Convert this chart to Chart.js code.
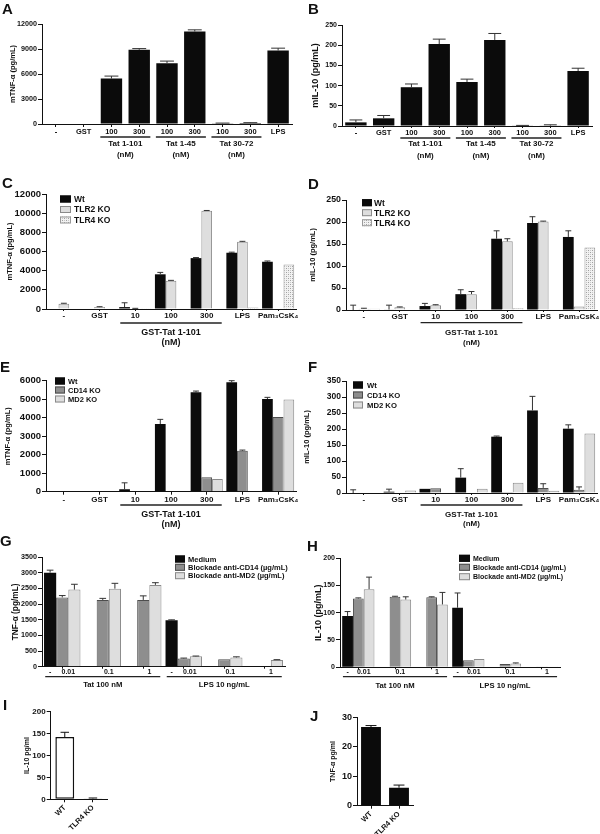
<!DOCTYPE html>
<html><head><meta charset="utf-8">
<script src="https://cdn.jsdelivr.net/npm/chart.js@4.4.1/dist/chart.umd.min.js"></script>
<style>
html,body{margin:0;padding:0;background:#fff;}
#fig{position:relative;width:600px;height:834px;overflow:hidden;background:#fff;font-family:"Liberation Sans",Arial,Helvetica,sans-serif;}
.lt{position:absolute;font-weight:bold;font-size:15px;line-height:15px;color:#111;z-index:5;}
</style></head><body><div id="fig"></div>
<script>
// ---------------- DATA ----------------
// Panel A – mTNF-α
const catA = ['-', 'GST', '100', '300', '100', '300', '100', '300', 'LPS'];
const tnfA = [0, 0, 5450, 8900, 7300, 11100, 80, 120, 8820];
const tnfAErr = [0, 0, 300, 150, 250, 200, 30, 40, 280];
const ticksA = [0, 3000, 6000, 9000, 12000];
const groupsAB = [['Tat 1-101', '(nM)'], ['Tat 1-45', '(nM)'], ['Tat 30-72', '(nM)']];

// Panel B – mIL-10
const catB = ['-', 'GST', '100', '300', '100', '300', '100', '300', 'LPS'];
const il10B = [9, 19, 96, 203, 109, 213, 1, 1, 136];
const il10BErr = [6, 7, 8, 12, 7, 16, 0.5, 2, 7];
const ticksB = [0, 50, 100, 150, 200, 250];

// Panels C–F categories
const catTLR = ['-', 'GST', '10', '100', '300', 'LPS', 'Pam₃CsK₄'];
const stimCF = ['GST-Tat 1-101', '(nM)'];

// Panel C – mTNF-α, TLR KO
const wtC = [0, 0, 200, 3620, 5310, 5870, 4930];
const wtCErr = [0, 0, 450, 200, 60, 60, 80];
const tlr2C = [560, 200, 50, 2950, 10240, 7010, 40];
const tlr2CErr = [40, 40, 20, 40, 40, 50, 0];
const tlr4C = [0, 0, 80, 0, 60, 150, 4650];
const ticksC = [0, 2000, 4000, 6000, 8000, 10000, 12000];

// Panel D – mIL-10, TLR KO
const wtD = [0, 1, 9, 36, 162, 198, 166];
const wtDErr = [11, 10, 6, 10, 18, 14, 14];
const tlr2D = [3, 6, 11, 36, 156, 201, 8];
const tlr2DErr = [1, 1, 1, 6, 6, 1, 0];
const tlr4D = [3, 0, 1, 1, 4, 1, 142];
const ticksD = [0, 50, 100, 150, 200, 250];

// Panel E – mTNF-α, CD14/MD2 KO
const wtE = [0, 0, 130, 3660, 5370, 5910, 5010];
const wtEErr = [0, 0, 350, 250, 70, 90, 90];
const cd14E = [0, 0, 0, 0, 780, 2210, 4040];
const cd14EErr = [0, 0, 0, 0, 0, 40, 0];
const md2E = [0, 0, 0, 0, 680, 0, 4990];
const ticksE = [0, 1000, 2000, 3000, 4000, 5000, 6000];

// Panel F – mIL-10, CD14/MD2 KO
const wtF = [0, 4, 13, 48, 176, 258, 201];
const wtFErr = [10, 8, 0, 28, 2, 44, 12];
const cd14F = [0, 0, 15, 0, 3, 16, 10];
const cd14FErr = [0, 0, 0, 0, 0, 13, 9];
const md2F = [0, 8, 0, 13, 32, 7, 186];
const ticksF = [0, 50, 100, 150, 200, 250, 300, 350];

// Panels G/H – blockade
const catGH = ['Tat 0.01', 'Tat 0.1', 'Tat 1', 'LPS 0.01', 'LPS 0.1', 'LPS 1'];
const doseGH = ['0.01', '0.1', '1', '0.01', '0.1', '1'];
const mediumTickGH = ['-', '', '', '-', '', ''];
const stimGH = ['Tat 100 nM', 'LPS 10 ng/mL'];
const mediumG = [3000, null, null, 1480, null, null];
const mediumGErr = [80, 0, 0, 15, 0, 0];
const cd14G = [2210, 2130, 2130, 260, 235, 0];
const cd14GErr = [60, 50, 130, 15, 0, 0];
const md2G = [2460, 2490, 2610, 330, 295, 215];
const md2GErr = [170, 170, 70, 10, 20, 10];
const ticksG = [0, 500, 1000, 1500, 2000, 2500, 3000, 3500];
const mediumH = [94, null, null, 109, null, null];
const mediumHErr = [8, 0, 0, 27, 0, 0];
const cd14H = [126, 129, 128, 13, 6, 0.5];
const cd14HErr = [1, 1, 1, 0, 0, 0];
const md2H = [143, 124, 115, 15, 7, 0.5];
const md2HErr = [22, 5, 22, 0, 1, 0];
const ticksH = [0, 50, 100, 150, 200];

// Panels I/J
const catIJ = ['WT', 'TLR4 KO'];
const il10I = [142, 2];
const il10IErr = [11, 1];
const ticksI = [0, 50, 100, 150, 200];
const tnfJ = [26.7, 6.1];
const tnfJErr = [0.5, 0.9];
const ticksJ = [0, 10, 20, 30];

// ---------------- STYLE ----------------
const FONT = '"Liberation Sans", Arial, Helvetica, sans-serif';
const INK = '#111';
const BLACK = '#0b0b0b', GRAY = '#8e8e8e', GRAYB = '#4d4d4d', LIGHT = '#dedede', LIGHTB = '#8a8a8a';
Chart.defaults.font.family = FONT;
Chart.defaults.font.weight = 'bold';
Chart.defaults.color = INK;

const fig = document.getElementById('fig');
function addLetter(t, x, y) {
  const d = document.createElement('div'); d.className = 'lt'; d.textContent = t;
  d.style.left = x + 'px'; d.style.top = y + 'px'; fig.appendChild(d);
}
function dotPattern() {
  const p = document.createElement('canvas'); p.width = 4; p.height = 4;
  const g = p.getContext('2d');
  g.fillStyle = '#f2f2f2'; g.fillRect(0, 0, 4, 4);
  g.fillStyle = '#a0a0a0'; g.fillRect(0, 0, 1, 1); g.fillRect(2, 2, 1, 1);
  g.fillStyle = '#c8c8c8'; g.fillRect(2, 0, 1, 1); g.fillRect(0, 2, 1, 1);
  return g.createPattern(p, 'repeat');
}
const DOTS = dotPattern();

const errorBars = {
  id: 'errorBars',
  afterDatasetsDraw(chart) {
    const ctx = chart.ctx, ys = chart.scales.y;
    chart.data.datasets.forEach((ds, i) => {
      if (!ds.errors) return;
      const meta = chart.getDatasetMeta(i);
      meta.data.forEach((bar, j) => {
        const v = ds.data[j], e = ds.errors[j];
        if (v == null || !e) return;
        const x = bar.x, w = bar.width * (ds.capRatio || 0.55);
        const y0 = ys.getPixelForValue(v), y1 = ys.getPixelForValue(v + e);
        ctx.save();
        ctx.strokeStyle = ds.errorColor || '#333'; ctx.lineWidth = 1;
        ctx.beginPath();
        ctx.moveTo(x, y0); ctx.lineTo(x, y1);
        ctx.moveTo(x - w / 2, y1); ctx.lineTo(x + w / 2, y1);
        ctx.stroke(); ctx.restore();
      });
    });
  }
};

function extrasPlugin(s) {
  return {
    id: 'extras',
    afterDraw(chart) {
      const ctx = chart.ctx, xs = chart.scales.x, ca = chart.chartArea;
      const n = chart.data.labels.length, cw = (ca.right - ca.left) / n;
      ctx.save();
      ctx.fillStyle = INK; ctx.strokeStyle = '#222';
      ctx.textAlign = 'center'; ctx.textBaseline = 'middle';
      if (s.ticksCustom) {
        const tc = s.ticksCustom;
        const m0 = chart.getDatasetMeta(0), m1 = chart.getDatasetMeta(1), m2 = chart.getDatasetMeta(2);
        ctx.font = 'bold ' + tc.size + 'px ' + FONT;
        tc.medium.forEach((t, i) => { if (t) ctx.fillText(t, m0.data[i].x, ca.bottom + tc.dy); });
        tc.dose.forEach((t, i) => ctx.fillText(t, (m1.data[i].x + m2.data[i].x) / 2, ca.bottom + tc.dy));
      }
      if (s.groups) {
        const g = s.groups;
        g.items.forEach(it => {
          const x0 = xs.getPixelForValue(it.from) - g.ext * cw;
          const x1 = xs.getPixelForValue(it.to) + g.ext * cw;
          ctx.lineWidth = 1.3;
          ctx.beginPath(); ctx.moveTo(x0, ca.bottom + g.line); ctx.lineTo(x1, ca.bottom + g.line); ctx.stroke();
          ctx.font = 'bold ' + g.size + 'px ' + FONT;
          it.lines.forEach((t, k) => ctx.fillText(t, (x0 + x1) / 2, ca.bottom + g.text[k]));
        });
      }
      if (s.legend) {
        const L = s.legend;
        ctx.font = 'bold ' + L.size + 'px ' + FONT; ctx.textAlign = 'left';
        chart.data.datasets.forEach((ds, k) => {
          const y = L.rows[k];
          ctx.fillStyle = ds.backgroundColor; ctx.fillRect(L.x, y - L.h / 2, L.w, L.h);
          ctx.strokeStyle = ds.borderColor || ds.backgroundColor; ctx.lineWidth = 1;
          ctx.strokeRect(L.x + 0.5, y - L.h / 2 + 0.5, L.w - 1, L.h - 1);
          ctx.fillStyle = INK; ctx.fillText(ds.label, L.tx, y + 0.5);
        });
      }
      ctx.restore();
    }
  };
}

function makeChart(s) {
  const cv = document.createElement('canvas');
  cv.width = s.w; cv.height = s.h;
  cv.style.cssText = 'position:absolute;left:' + s.x + 'px;top:' + s.y + 'px;width:' + s.w + 'px;height:' + s.h + 'px;';
  fig.appendChild(cv);
  const a = s.area;
  return new Chart(cv.getContext('2d'), {
    type: 'bar',
    data: { labels: s.labels, datasets: s.datasets },
    options: {
      responsive: false, maintainAspectRatio: false, animation: false, devicePixelRatio: 1,
      layout: { padding: { left: 0, right: s.w - a.r, top: a.t, bottom: 0 } },
      plugins: { legend: { display: false }, tooltip: { enabled: false } },
      scales: {
        x: {
          afterFit: sc => { sc.height = s.h - a.b; },
          grid: { drawOnChartArea: false, drawTicks: true, tickLength: s.xtl, offset: false, color: INK, lineWidth: 1 },
          border: { display: true, color: INK, width: 1 },
          ticks: { display: !s.hideX, autoSkip: false, maxRotation: s.rot || 0, minRotation: s.rot || 0,
                   padding: s.xtPad || 0, font: { size: s.xtSize, weight: 'bold' }, color: INK }
        },
        y: {
          min: s.yTicks[0], max: s.yTicks[s.yTicks.length - 1],
          afterBuildTicks: sc => { sc.ticks = s.yTicks.map(v => ({ value: v })); },
          afterFit: sc => { sc.width = a.l; },
          grid: { drawOnChartArea: false, drawTicks: true, tickLength: 4, color: INK, lineWidth: 1 },
          border: { display: true, color: INK, width: 1 },
          ticks: { padding: 1, font: { size: s.ytSize, weight: 'bold' }, color: INK, callback: v => String(v) },
          title: { display: true, text: s.yTitle, color: INK, font: { size: s.yTitleSize, weight: 'bold' },
                   padding: { top: s.titlePad, bottom: 0 } }
        }
      }
    },
    plugins: [errorBars, extrasPlugin(s)]
  });
}

function ds(label, data, errors, fill, stroke, bw, extra) {
  return Object.assign({ label, data, errors, backgroundColor: fill, borderColor: stroke, borderWidth: bw,
    categoryPercentage: 0.9, barPercentage: 1 }, extra || {});
}

// ---------------- PANELS ----------------
const abGroups = { ext: 0.4, size: 8, items: [
  { from: 2, to: 3, lines: groupsAB[0] }, { from: 4, to: 5, lines: groupsAB[1] }, { from: 6, to: 7, lines: groupsAB[2] }] };

makeChart({ x: 0, y: 0, w: 300, h: 162, area: { l: 42, r: 292, t: 24, b: 124 },
  labels: catA, yTicks: ticksA, ytSize: 7.2, yTitle: 'mTNF-α (pg/mL)', yTitleSize: 7.5, titlePad: 8.5,
  xtSize: 7.5, xtl: 3,
  datasets: [ds('A', tnfA, tnfAErr, BLACK, BLACK, 0, { categoryPercentage: 1, barPercentage: 0.77, capRatio: 0.65 })],
  groups: Object.assign({ line: 13, text: [19.5, 31] }, abGroups) });

makeChart({ x: 300, y: 0, w: 300, h: 162, area: { l: 42, r: 292, t: 25, b: 126 },
  labels: catB, yTicks: ticksB, ytSize: 7, yTitle: 'mIL-10 (pg/mL)', yTitleSize: 9, titlePad: 10,
  xtSize: 7.5, xtl: 2,
  datasets: [ds('B', il10B, il10BErr, BLACK, BLACK, 0, { categoryPercentage: 1, barPercentage: 0.77, capRatio: 0.6 })],
  groups: Object.assign({ line: 12, text: [18, 30] }, abGroups) });

makeChart({ x: 0, y: 170, w: 300, h: 182, area: { l: 46, r: 296, t: 24, b: 139 },
  labels: catTLR, yTicks: ticksC, ytSize: 9.5, yTitle: 'mTNF-α (pg/mL)', yTitleSize: 7.5, titlePad: 5.5,
  xtSize: 8, xtl: 2,
  datasets: [ds('Wt', wtC, wtCErr, BLACK, BLACK, 0), ds('TLR2 KO', tlr2C, tlr2CErr, LIGHT, LIGHTB, 1),
             ds('TLR4 KO', tlr4C, null, DOTS, '#9a9a9a', 1)],
  groups: { ext: 0.42, size: 9, line: 14, text: [24, 34], items: [{ from: 2, to: 4, lines: stimCF }] },
  legend: { x: 60, w: 11, h: 7, tx: 74, size: 8.5, rows: [29, 39.5, 50] } });

makeChart({ x: 300, y: 170, w: 300, h: 182, area: { l: 46, r: 297, t: 30, b: 140 },
  labels: catTLR, yTicks: ticksD, ytSize: 8.8, yTitle: 'mIL-10 (pg/mL)', yTitleSize: 7.5, titlePad: 8.5,
  xtSize: 8, xtl: 2,
  datasets: [ds('Wt', wtD, wtDErr, BLACK, BLACK, 0), ds('TLR2 KO', tlr2D, tlr2DErr, LIGHT, LIGHTB, 1),
             ds('TLR4 KO', tlr4D, null, DOTS, '#9a9a9a', 1)],
  groups: { ext: 0.42, size: 8, line: 12.7, text: [22.7, 32.7], items: [{ from: 2, to: 4, lines: stimCF }] },
  legend: { x: 62, w: 10, h: 7, tx: 74, size: 8.5, rows: [32.7, 42.7, 52.7] } });

makeChart({ x: 0, y: 355, w: 300, h: 178, area: { l: 46, r: 296, t: 25.7, b: 136.7 },
  labels: catTLR, yTicks: ticksE, ytSize: 9.5, yTitle: 'mTNF-α (pg/mL)', yTitleSize: 7.5, titlePad: 3,
  xtSize: 8, xtl: 3,
  datasets: [ds('Wt', wtE, wtEErr, BLACK, BLACK, 0), ds('CD14 KO', cd14E, cd14EErr, GRAY, GRAYB, 1),
             ds('MD2 KO', md2E, null, LIGHT, LIGHTB, 1)],
  groups: { ext: 0.42, size: 9, line: 13.3, text: [23.3, 32.8], items: [{ from: 2, to: 4, lines: stimCF }] },
  legend: { x: 55, w: 10, h: 7, tx: 68, size: 7.5, rows: [26, 35, 44] } });

makeChart({ x: 300, y: 355, w: 300, h: 178, area: { l: 46, r: 297, t: 26, b: 138 },
  labels: catTLR, yTicks: ticksF, ytSize: 8.5, yTitle: 'mIL-10 (pg/mL)', yTitleSize: 7.5, titlePad: 2.5,
  xtSize: 8, xtl: 2,
  datasets: [ds('Wt', wtF, wtFErr, BLACK, BLACK, 0), ds('CD14 KO', cd14F, cd14FErr, GRAY, GRAYB, 1),
             ds('MD2 KO', md2F, null, LIGHT, LIGHTB, 1)],
  groups: { ext: 0.42, size: 8, line: 12, text: [22, 31], items: [{ from: 2, to: 4, lines: stimCF }] },
  legend: { x: 53, w: 10, h: 7, tx: 67, size: 7.7, rows: [30, 40, 50] } });

makeChart({ x: 0, y: 535, w: 300, h: 160, area: { l: 42, r: 285, t: 22, b: 131.7 },
  labels: catGH, yTicks: ticksG, ytSize: 7.2, yTitle: 'TNF-α (pg/mL)', yTitleSize: 8.3, titlePad: 10.5,
  xtSize: 7, xtl: 2, hideX: true,
  datasets: [ds('Medium', mediumG, mediumGErr, BLACK, BLACK, 0),
             ds('Blockade anti-CD14 (µg/mL)', cd14G, cd14GErr, GRAY, GRAYB, 1),
             ds('Blockade anti-MD2 (µg/mL)', md2G, md2GErr, LIGHT, LIGHTB, 1)],
  ticksCustom: { size: 7, dy: 5, medium: mediumTickGH, dose: doseGH },
  groups: { ext: 0.42, size: 7.7, line: 10, text: [18.3], items: [
    { from: 0, to: 2, lines: [stimGH[0]] }, { from: 3, to: 5, lines: [stimGH[1]] }] },
  legend: { x: 175, w: 10, h: 7, tx: 188, size: 7.5, rows: [24, 32.3, 40.7] } });

makeChart({ x: 300, y: 535, w: 300, h: 160, area: { l: 40, r: 260, t: 23, b: 132.3 },
  labels: catGH, yTicks: ticksH, ytSize: 7, yTitle: 'IL-10 (pg/mL)', yTitleSize: 9, titlePad: 13,
  xtSize: 7, xtl: 2, hideX: true,
  datasets: [ds('Medium', mediumH, mediumHErr, BLACK, BLACK, 0, { categoryPercentage: 0.88 }),
             ds('Blockade anti-CD14 (µg/mL)', cd14H, cd14HErr, GRAY, GRAYB, 1, { categoryPercentage: 0.88 }),
             ds('Blockade anti-MD2 (µg/mL)', md2H, md2HErr, LIGHT, LIGHTB, 1, { categoryPercentage: 0.88 })],
  ticksCustom: { size: 7, dy: 4.7, medium: mediumTickGH, dose: doseGH },
  groups: { ext: 0.42, size: 7.7, line: 9.4, text: [18.7], items: [
    { from: 0, to: 2, lines: [stimGH[0]] }, { from: 3, to: 5, lines: [stimGH[1]] }] },
  legend: { x: 159, w: 11, h: 7, tx: 173, size: 7, rows: [23.3, 32.3, 41.7] } });

makeChart({ x: 0, y: 695, w: 150, h: 139, area: { l: 50.7, r: 107, t: 16.7, b: 104.3 },
  labels: catIJ, yTicks: ticksI, ytSize: 8, yTitle: 'IL-10 pg/ml', yTitleSize: 7, titlePad: 23,
  xtSize: 7.5, xtl: 3, xtPad: 1, rot: 45,
  datasets: [ds('I', il10I, il10IErr, '#ffffff', '#111', 1.5,
    { categoryPercentage: 1, barPercentage: 0.67, capRatio: 0.45, errorColor: '#111', borderSkipped: false })] });

makeChart({ x: 300, y: 695, w: 150, h: 139, area: { l: 57, r: 113, t: 22.3, b: 110.7 },
  labels: catIJ, yTicks: ticksJ, ytSize: 9, yTitle: 'TNF-α pg/ml', yTitleSize: 7, titlePad: 29,
  xtSize: 7.5, xtl: 3, xtPad: 1, rot: 45,
  datasets: [ds('J', tnfJ, tnfJErr, BLACK, BLACK, 0,
    { categoryPercentage: 1, barPercentage: 0.71, capRatio: 0.55, errorColor: '#111' })] });

// ---------------- PANEL LETTERS ----------------
addLetter('A', 2, 1); addLetter('B', 308, 1);
addLetter('C', 2, 175); addLetter('D', 308, 176);
addLetter('E', 0, 359); addLetter('F', 308, 359);
addLetter('G', 0, 533); addLetter('H', 307, 538);
addLetter('I', 3, 697); addLetter('J', 310, 708);
</script>
</body></html>
